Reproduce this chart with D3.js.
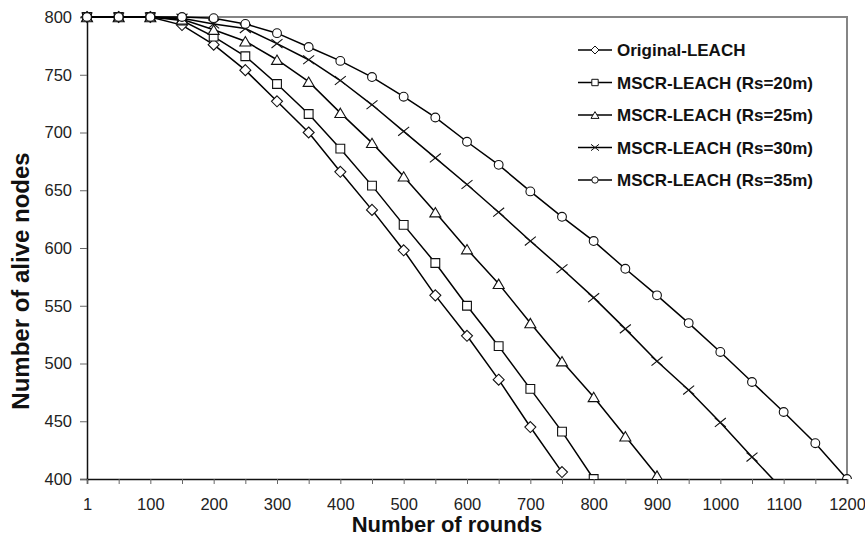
<!DOCTYPE html>
<html>
<head>
<meta charset="utf-8">
<script src="https://cdn.jsdelivr.net/npm/d3@7"></script>
<style>
  body { margin: 0; background: #fff; }
  svg text { font-family: "Liberation Sans", Arial, sans-serif; }
</style>
</head>
<body>
<script>
(function () {
    'use strict';

    const width = 865;
    const height = 542;
    const margin = {top: 17, left: 87, right: 18, bottom: 63};

    // rounds on the category axis
    const rounds = d3.range(0, 1201, 50).map(d => d === 0 ? 1 : d);
    const yTicks = [400, 450, 500, 550, 600, 650, 700, 750, 800];

    // alive nodes per round, one array per protocol
    const originalLeach = [800, 800, 800, 793, 776, 754, 727, 700, 666, 633, 598, 559, 524, 486, 445, 406];
    const mscr20 = [800, 800, 800, 797, 783, 766, 742, 716, 686, 654, 620, 587, 550, 515, 478, 441, 400];
    const mscr25 = [800, 800, 800, 798, 789, 779, 763, 744, 717, 691, 662, 631, 599, 569, 535, 502, 471, 437, 403];
    const mscr30 = [800, 800, 800, 799, 794, 790, 777, 763, 745, 724, 701, 678, 655, 631, 606, 582, 557, 530, 502, 477, 449, 419, 390];
    const mscr35 = [800, 800, 800, 800, 799, 794, 786, 774, 762, 748, 731, 713, 692, 672, 649, 627, 606, 582, 559, 535, 510, 484, 458, 431, 400];

    const seriesNames = ['Original-LEACH', 'MSCR-LEACH (Rs=20m)', 'MSCR-LEACH (Rs=25m)', 'MSCR-LEACH (Rs=30m)', 'MSCR-LEACH (Rs=35m)'];
    const seriesValues = [originalLeach, mscr20, mscr25, mscr30, mscr35];
    const markerTypes = ['diamond', 'square', 'triangle', 'cross', 'circle'];

    const series = seriesNames.map((name, i) => ({
        name: name,
        marker: markerTypes[i],
        values: seriesValues[i].map((v, j) => ({round: rounds[j], value: v}))
    }));

    // marker outline, s = nominal size in px
    const markerPath = (type, s) => {
        const p = d3.path();
        const h = s / 2;
        if (type === 'diamond') {
            p.moveTo(0, -h); p.lineTo(h, 0); p.lineTo(0, h); p.lineTo(-h, 0); p.closePath();
        } else if (type === 'square') {
            p.rect(-h * 0.8, -h * 0.8, s * 0.8, s * 0.8);
        } else if (type === 'triangle') {
            p.moveTo(0, -h * 0.85); p.lineTo(h, h * 0.85); p.lineTo(-h, h * 0.85); p.closePath();
        } else if (type === 'cross') {
            p.moveTo(-h, -h * 0.8); p.lineTo(h, h * 0.8);
            p.moveTo(h, -h * 0.8); p.lineTo(-h, h * 0.8);
        } else {
            p.arc(0, 0, h * 0.8, 0, 2 * Math.PI);
        }
        return p.toString();
    };

    const svg = d3.select('body')
        .append('svg')
        .attr('width', width)
        .attr('height', height);

    const x = d3.scalePoint()
        .domain(rounds)
        .range([margin.left, width - margin.right]);

    const y = d3.scaleLinear()
        .domain([400, 800])
        .range([height - margin.bottom, margin.top]);

    svg.append('clipPath')
        .attr('id', 'plot-clip')
        .append('rect')
        .attr('x', margin.left - 8)
        .attr('y', margin.top - 8)
        .attr('width', width - margin.left - margin.right + 16)
        .attr('height', height - margin.top - margin.bottom + 8);

    // grey frame on top and right
    svg.append('path')
        .attr('d', `M${margin.left},${y(800)}H${x(1200)}V${y(400)}`)
        .attr('fill', 'none')
        .attr('stroke', '#858585')
        .attr('stroke-width', 2);

    const yAxis = svg.append('g')
        .attr('transform', `translate(${margin.left},0)`)
        .call(d3.axisLeft(y).tickValues(yTicks).tickSize(7).tickPadding(8));

    const xAxis = svg.append('g')
        .attr('transform', `translate(0,${y(400)})`)
        .call(d3.axisBottom(x).tickSize(5).tickPadding(14)
            .tickFormat((d, i) => i % 2 === 0 ? d : ''));

    [yAxis, xAxis].forEach(g => {
        g.select('.domain').attr('stroke', '#111').attr('stroke-width', 1.5);
        g.selectAll('.tick line').attr('stroke', '#666');
        g.selectAll('.tick text')
            .attr('fill', '#222')
            .style('font-size', '16.5px');
    });

    const line = d3.line()
        .x(d => x(d.round))
        .y(d => y(d.value));

    const plot = svg.append('g').attr('clip-path', 'url(#plot-clip)');

    series.forEach(s => {
        const g = plot.append('g');
        g.append('path')
            .attr('d', line(s.values))
            .attr('fill', 'none')
            .attr('stroke', '#000')
            .attr('stroke-width', 1.5);

        g.selectAll('.mark')
            .data(s.values.filter(d => d.value >= 400))
            .enter().append('path')
            .attr('class', 'mark')
            .attr('transform', d => `translate(${x(d.round)},${y(d.value)})`)
            .attr('d', markerPath(s.marker, 11))
            .attr('fill', s.marker === 'cross' ? 'none' : '#fff')
            .attr('stroke', '#111')
            .attr('stroke-width', 1.1);
    });

    // legend
    const legend = svg.append('g')
        .attr('transform', 'translate(578,50)');

    const item = legend.selectAll('.item')
        .data(series)
        .enter().append('g')
        .attr('class', 'item')
        .attr('transform', (d, i) => `translate(0,${i * 32.5})`);

    item.append('line')
        .attr('x1', 0).attr('x2', 34)
        .attr('stroke', '#000')
        .attr('stroke-width', 1.5);

    item.append('path')
        .attr('transform', 'translate(17,0)')
        .attr('d', d => markerPath(d.marker, 8))
        .attr('fill', d => d.marker === 'cross' ? 'none' : '#fff')
        .attr('stroke', '#111')
        .attr('stroke-width', 1);

    item.append('text')
        .attr('x', 39)
        .attr('dy', '0.36em')
        .attr('fill', '#111')
        .style('font-size', '17px')
        .style('font-weight', 'bold')
        .text(d => d.name);

    svg.append('text')
        .attr('x', 447)
        .attr('y', 532)
        .attr('text-anchor', 'middle')
        .attr('fill', '#111')
        .style('font-size', '22px')
        .style('font-weight', 'bold')
        .text('Number of rounds');

    svg.append('text')
        .attr('transform', 'translate(28.5,281) rotate(-90)')
        .attr('text-anchor', 'middle')
        .attr('fill', '#111')
        .style('font-size', '24px')
        .style('font-weight', 'bold')
        .text('Number of alive nodes');
}());
</script>
</body>
</html>
